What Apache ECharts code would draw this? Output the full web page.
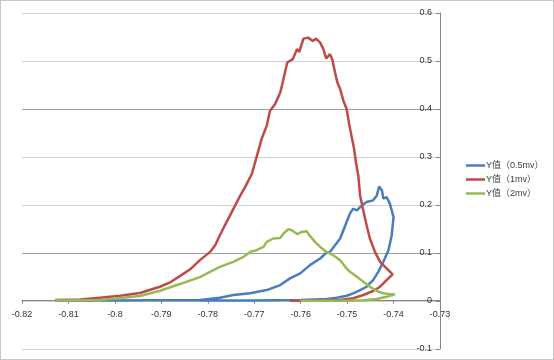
<!DOCTYPE html>
<html><head><meta charset="utf-8">
<script src="https://cdn.jsdelivr.net/npm/echarts@6/dist/echarts.min.js"></script>
<style>
html,body{margin:0;padding:0;background:#fff;}
#c{width:554px;height:360px;box-sizing:border-box;border:1px solid #c8c8c8;}
</style></head><body>
<div id="c"></div>
<script>
const seriesNames = ['Y值（0.5mv）', 'Y值（1mv）', 'Y值（2mv）'];
const xTicks = {min: -0.82, max: -0.73, step: 0.01};
const yTicks = {min: -0.1, max: 0.6, step: 0.1};

const blueX = [-0.8129,-0.8011,-0.7925,-0.7817,-0.7774,-0.7745,-0.7709,-0.7673,-0.7644,-0.7623,-0.7601,-0.7580,-0.7558,-0.7544,-0.7537,-0.7515,-0.7501,-0.7494,-0.7487,-0.7479,-0.7468,-0.7458,-0.7444,-0.7436,-0.7431,-0.7425,-0.7422,-0.7415,-0.7408,-0.7400,-0.7404,-0.7411,-0.7422,-0.7433,-0.7444,-0.7458,-0.7472,-0.7487,-0.7501,-0.7522,-0.7544,-0.7601,-0.7709,-0.7817];
const blueY = [0.001,0.001,0.0015,0.002,0.0069,0.0125,0.016,0.0228,0.0332,0.0471,0.0575,0.0747,0.0886,0.1011,0.1023,0.1302,0.1646,0.1821,0.1924,0.1889,0.1993,0.2061,0.2097,0.22,0.2385,0.2304,0.2132,0.2165,0.2028,0.175,0.137,0.1059,0.0816,0.0608,0.0436,0.0297,0.0228,0.016,0.011,0.0069,0.0042,0.002,0.001,0.001];

const redX = [-0.8129,-0.8075,-0.8032,-0.7989,-0.7946,-0.7903,-0.7881,-0.7860,-0.7838,-0.7817,-0.7795,-0.7784,-0.7774,-0.7763,-0.7752,-0.7741,-0.7731,-0.7720,-0.7705,-0.7695,-0.7684,-0.7673,-0.7666,-0.7655,-0.7644,-0.7637,-0.7629,-0.7617,-0.7608,-0.7603,-0.7594,-0.7584,-0.7574,-0.7567,-0.7558,-0.7551,-0.7545,-0.7537,-0.7532,-0.7526,-0.7521,-0.7515,-0.7508,-0.7501,-0.7495,-0.7490,-0.7485,-0.7481,-0.7476,-0.7472,-0.7466,-0.7458,-0.7451,-0.7440,-0.7429,-0.7415,-0.7402,-0.7415,-0.7429,-0.7444,-0.7465,-0.7487,-0.7515,-0.7558,-0.7623];
const redY = [0.002,0.003,0.007,0.011,0.0166,0.0297,0.039,0.0519,0.066,0.0851,0.1023,0.116,0.137,0.158,0.1785,0.1993,0.218,0.2367,0.2651,0.2996,0.3378,0.3654,0.3965,0.4104,0.4345,0.4623,0.4968,0.5038,0.5246,0.519,0.5466,0.5487,0.5418,0.5466,0.5383,0.5246,0.5051,0.5142,0.5038,0.476,0.4553,0.4416,0.4173,0.4,0.3654,0.3411,0.317,0.2892,0.2616,0.22,0.1924,0.1578,0.1302,0.1023,0.0816,0.0679,0.0554,0.0436,0.0297,0.0208,0.0125,0.0056,0.002,0.001,0.0006];

const greenX = [-0.8129,-0.8032,-0.7946,-0.7903,-0.7860,-0.7817,-0.7795,-0.7774,-0.7745,-0.7723,-0.7709,-0.7695,-0.7680,-0.7673,-0.7659,-0.7644,-0.7637,-0.7627,-0.7619,-0.7607,-0.7598,-0.7587,-0.7580,-0.7569,-0.7558,-0.7544,-0.7530,-0.7515,-0.7504,-0.7494,-0.7479,-0.7465,-0.7451,-0.7436,-0.7422,-0.7408,-0.7397,-0.7415,-0.7436,-0.7465,-0.7501,-0.7601];
const greenY = [0.001,0.002,0.0104,0.0214,0.0353,0.0498,0.0608,0.0712,0.0816,0.092,0.1023,0.1059,0.1127,0.1231,0.1302,0.1314,0.1405,0.1495,0.1474,0.1391,0.1439,0.1453,0.1356,0.1231,0.1127,0.1023,0.0955,0.0851,0.0712,0.0608,0.0504,0.0401,0.0297,0.0208,0.016,0.0139,0.0139,0.0089,0.0042,0.0015,0.0006,0.0006];

const colors = ['#4A7EBB', '#BE4B48', '#98B954'];
const FONT = 'Liberation Sans, Arial, Noto Sans CJK SC, sans-serif';

function pairs(xs, ys){ return xs.map((x,i)=>[x, ys[i]]); }
const allX = [blueX, redX, greenX], allY = [blueY, redY, greenY];

const GRID_TOP = 12, GRID_BOTTOM = 10, H = 360;
const plotH = H - GRID_TOP - GRID_BOTTOM;
// shift x axis up to sit at y = 0
const zeroShift = -plotH * (0 - yTicks.min) / (yTicks.max - yTicks.min);

const chart = echarts.init(document.getElementById('c'), null, {renderer:'canvas'});
chart.setOption({
  animation: false,
  color: colors,
  grid: {left: 21, right: 113, top: GRID_TOP, bottom: GRID_BOTTOM, containLabel: false, outerBoundsMode: 'none'},
  legend: {
    orient: 'vertical', left: 465, top: 160, padding: 0,
    icon: 'rect', itemWidth: 19, itemHeight: 2.5, itemGap: 5,
    textStyle: {fontSize: 9, color: '#404040', fontFamily: FONT, padding: [0,0,0,-4]},
    data: seriesNames
  },
  xAxis: {
    type: 'value', min: xTicks.min, max: xTicks.max, interval: xTicks.step,
    position: 'bottom', offset: zeroShift,
    axisLine: {onZero: false, lineStyle: {color: '#868686', width: 1}},
    axisTick: {show: true, length: 3, lineStyle: {color: '#868686'}},
    axisLabel: {fontSize: 9, color: '#333', fontFamily: FONT, margin: 9},
    splitLine: {show: false}
  },
  yAxis: {
    type: 'value', position: 'right', min: yTicks.min, max: yTicks.max, interval: yTicks.step,
    axisLine: {show: true, onZero: false, lineStyle: {color: '#868686', width: 1}},
    axisTick: {show: true, inside: true, length: 4, lineStyle: {color: '#868686'}},
    axisLabel: {inside: true, fontSize: 9, color: '#333', fontFamily: FONT, margin: 8},
    splitLine: {show: true, lineStyle: {color: ['#d0d0d0','#d0d0d0','#a0a0a0'], width: 1}}
  },
  series: seriesNames.map((n, i) => ({
    name: n, type: 'line', data: pairs(allX[i], allY[i]),
    symbol: 'none', smooth: false,
    lineStyle: {width: 2.5, color: colors[i]}
  }))
});
</script>
</body></html>
